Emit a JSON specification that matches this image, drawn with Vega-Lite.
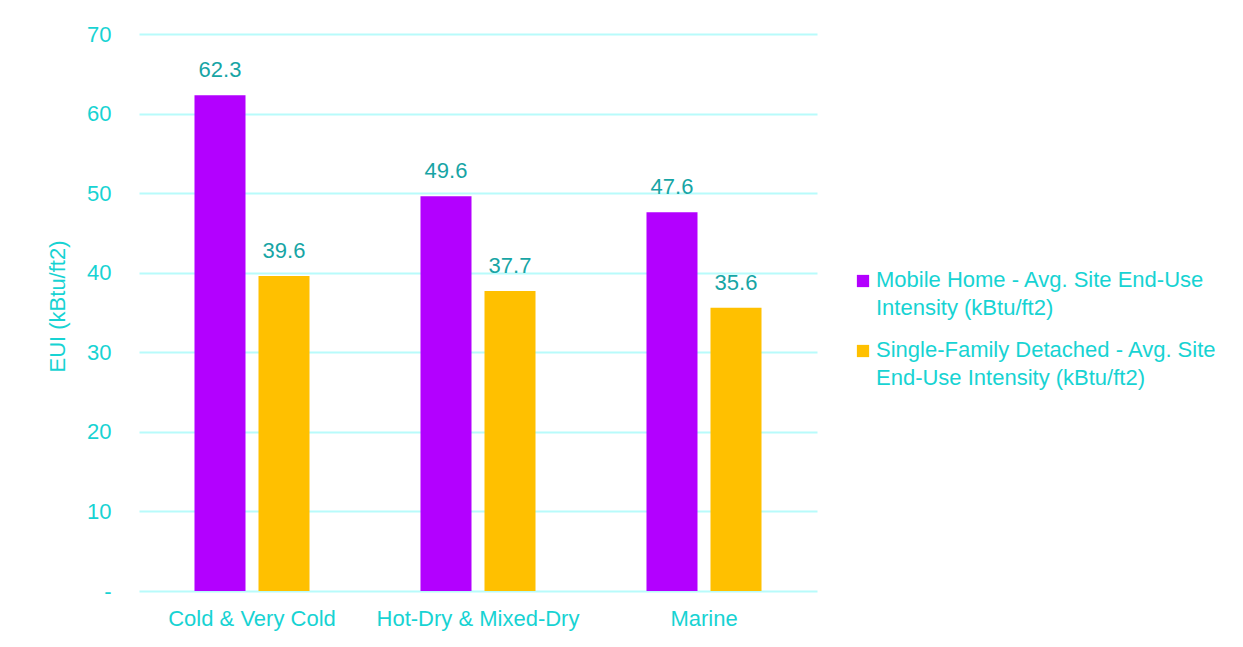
{
  "$schema": "https://vega.github.io/schema/vega-lite/v6.json",
  "width": 678,
  "height": 557,
  "autosize": "none",
  "padding": {"left": 139, "top": 34, "right": 426, "bottom": 56},
  "background": "white",
  "config": {
    "font": "Liberation Sans",
    "view": {"stroke": null}
  },
  "data": {
    "values": [
      {"zone": "Cold & Very Cold", "series": "Mobile Home - Avg. Site End-Use Intensity (kBtu/ft2)", "eui": 62.3},
      {"zone": "Cold & Very Cold", "series": "Single-Family Detached - Avg. Site End-Use Intensity (kBtu/ft2)", "eui": 39.6},
      {"zone": "Hot-Dry & Mixed-Dry", "series": "Mobile Home - Avg. Site End-Use Intensity (kBtu/ft2)", "eui": 49.6},
      {"zone": "Hot-Dry & Mixed-Dry", "series": "Single-Family Detached - Avg. Site End-Use Intensity (kBtu/ft2)", "eui": 37.7},
      {"zone": "Marine", "series": "Mobile Home - Avg. Site End-Use Intensity (kBtu/ft2)", "eui": 47.6},
      {"zone": "Marine", "series": "Single-Family Detached - Avg. Site End-Use Intensity (kBtu/ft2)", "eui": 35.6}
    ]
  },
  "encoding": {
    "x": {
      "field": "zone", "type": "nominal", "sort": null,
      "scale": {"paddingInner": 0, "paddingOuter": 0},
      "axis": {"title": null, "labelAngle": 0, "labelFontSize": 22, "labelColor": "#17D3D3", "labelPadding": 17, "labelLimit": 400, "ticks": false, "domain": false}
    },
    "xOffset": {
      "field": "series", "type": "nominal",
      "scale": {"paddingInner": 0.203, "paddingOuter": 0.867}
    },
    "y": {
      "field": "eui", "type": "quantitative",
      "scale": {"domain": [0, 70]},
      "axis": {
        "title": "EUI (kBtu/ft2)", "titleFontSize": 22, "titleFontWeight": "normal", "titleColor": "#17D3D3",
        "titleX": -82, "titleY": 272, "titleAlign": "center", "titleBaseline": "middle",
        "values": [0, 10, 20, 30, 40, 50, 60, 70],
        "labelExpr": "datum.value == 0 ? '-' : datum.label",
        "labelFontSize": 22, "labelColor": "#17D3D3", "labelPadding": 28,
        "ticks": false, "domain": false,
        "grid": true, "gridColor": "#B8FBFB", "gridWidth": 2
      }
    }
  },
  "layer": [
    {
      "mark": {"type": "bar"},
      "encoding": {
        "color": {
          "field": "series", "type": "nominal",
          "scale": {"range": ["#B300FF", "#FFC000"]},
          "legend": {
            "title": null, "orient": "none", "legendX": 713, "legendY": 236,
            "symbolType": "square", "symbolSize": 150, "symbolStrokeWidth": 0,
            "labelFontSize": 22, "labelColor": "#17D3D3", "labelLimit": 420,
            "labelBaseline": "top", "rowPadding": 20, "labelOffset": 2,
            "labelExpr": "datum.label == 'Mobile Home - Avg. Site End-Use Intensity (kBtu/ft2)' ? ['Mobile Home - Avg. Site End-Use', 'Intensity (kBtu/ft2)'] : ['Single-Family Detached - Avg. Site', 'End-Use Intensity (kBtu/ft2)']",
            "encode": {"labels": {"update": {"dy": {"value": -11}, "lineHeight": {"value": 28}}}}
          }
        }
      }
    },
    {
      "mark": {"type": "text", "baseline": "bottom", "dy": -13, "fontSize": 22, "color": "#17A5A5"},
      "encoding": {"text": {"field": "eui", "type": "quantitative", "format": ".1f"}}
    }
  ]
}
